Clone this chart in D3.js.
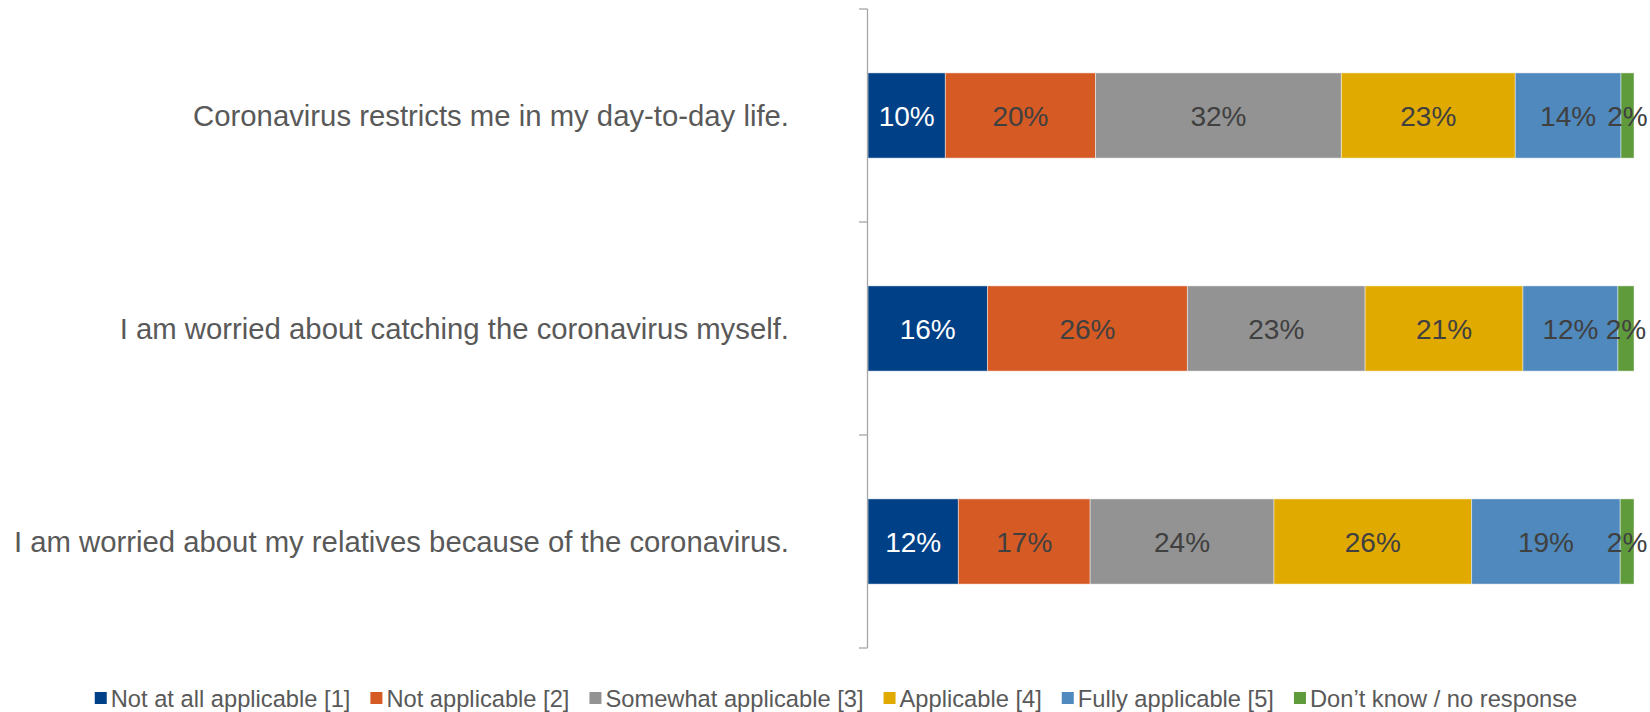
<!DOCTYPE html>
<html>
<head>
<meta charset="utf-8">
<script src="https://cdn.jsdelivr.net/npm/d3@7"></script>
<style>
  body { margin: 0; background: #fff; }
  text { font-family: "Liberation Sans", Arial, sans-serif; }
</style>
</head>
<body>
<div id="chart"></div>
<script>
// statements, top to bottom
var statements = [
    "Coronavirus restricts me in my day-to-day life.",
    "I am worried about catching the coronavirus myself.",
    "I am worried about my relatives because of the coronavirus."
];
var answers = [
    "Not at all applicable [1]",
    "Not applicable [2]",
    "Somewhat applicable [3]",
    "Applicable [4]",
    "Fully applicable [5]",
    "Don\u2019t know / no response"
];
var colours = ["#004086", "#d65a24", "#939393", "#e1aa00", "#4f89bd", "#5f9a3b"];
var labelColours = ["#ffffff", "#404040", "#404040", "#404040", "#404040", "#404040"];

// share in % per statement, same order as answers
var restricts = [10.1, 19.6, 32.1, 22.7, 13.8, 1.7];
var catching  = [15.6, 26.1, 23.2, 20.6, 12.4, 2.1];
var relatives = [11.8, 17.2, 24.0, 25.8, 19.4, 1.8];
var rows = [restricts, catching, relatives];

var w = 1650, h = 712;
var svg = d3.select("#chart").append("svg").attr("width", w).attr("height", h);

var x = d3.scaleLinear().domain([0, 100]).range([868, 1634]);
var y = d3.scaleBand().domain(statements).range([9, 648]).paddingInner(0.6).paddingOuter(0.3);

// build stacked segments
var segs = [];
rows.forEach((vals, r) => {
    var acc = 0;
    vals.forEach((v, i) => {
        segs.push({ stmt: statements[r], i: i, x0: acc, x1: acc + v, v: v });
        acc += v;
    });
});

svg.append("g").selectAll("rect")
    .data(segs).enter().append("rect")
    .attr("x", d => x(d.x0))
    .attr("y", d => y(d.stmt))
    .attr("width", d => x(d.x1) - x(d.x0))
    .attr("height", y.bandwidth())
    .style("fill", d => colours[d.i])
    .style("stroke", "rgba(255,255,255,0.45)")
    .style("stroke-width", 1);

svg.append("g").selectAll("text")
    .data(segs).enter().append("text")
    .attr("x", d => (x(d.x0) + x(d.x1)) / 2)
    .attr("y", d => y(d.stmt) + y.bandwidth() / 2)
    .attr("dy", "0.36em")
    .attr("text-anchor", "middle")
    .style("font-size", "28px")
    .style("fill", d => labelColours[d.i])
    .text(d => Math.round(d.v) + "%");

// axis line with ticks between categories
var axis = svg.append("g").style("stroke", "#a6a6a6").style("stroke-width", 1.3);
axis.append("line").attr("x1", 867.5).attr("x2", 867.5).attr("y1", y.range()[0]).attr("y2", y.range()[1]);
axis.selectAll(".tick")
    .data(d3.range(statements.length + 1)).enter().append("line")
    .attr("x1", 859).attr("x2", 867.5)
    .attr("y1", i => y.range()[0] + i * y.step())
    .attr("y2", i => y.range()[0] + i * y.step());

// category labels
svg.append("g").selectAll("text")
    .data(statements).enter().append("text")
    .attr("x", 789)
    .attr("y", d => y(d) + y.bandwidth() / 2)
    .attr("dy", "0.36em")
    .attr("text-anchor", "end")
    .style("font-size", "29.3px")
    .style("fill", "#595959")
    .text(d => d);

// legend, laid out by measured text widths and centred
var legend = svg.append("g");
var items = legend.selectAll("g").data(answers).enter().append("g");
items.append("rect")
    .attr("width", 12).attr("height", 12).attr("y", -6)
    .style("fill", (d, i) => colours[i]);
items.append("text")
    .attr("x", 16).attr("dy", "0.36em")
    .style("font-size", "23.7px")
    .style("fill", "#595959")
    .text(d => d);
var pos = 0;
items.each(function() {
    var tw = d3.select(this).select("text").node().getComputedTextLength();
    d3.select(this).attr("transform", "translate(" + pos + ",0)");
    pos += 16 + tw + 20;
});
pos -= 20;
legend.attr("transform", "translate(" + (836 - pos / 2) + ",698)");
</script>
</body>
</html>
